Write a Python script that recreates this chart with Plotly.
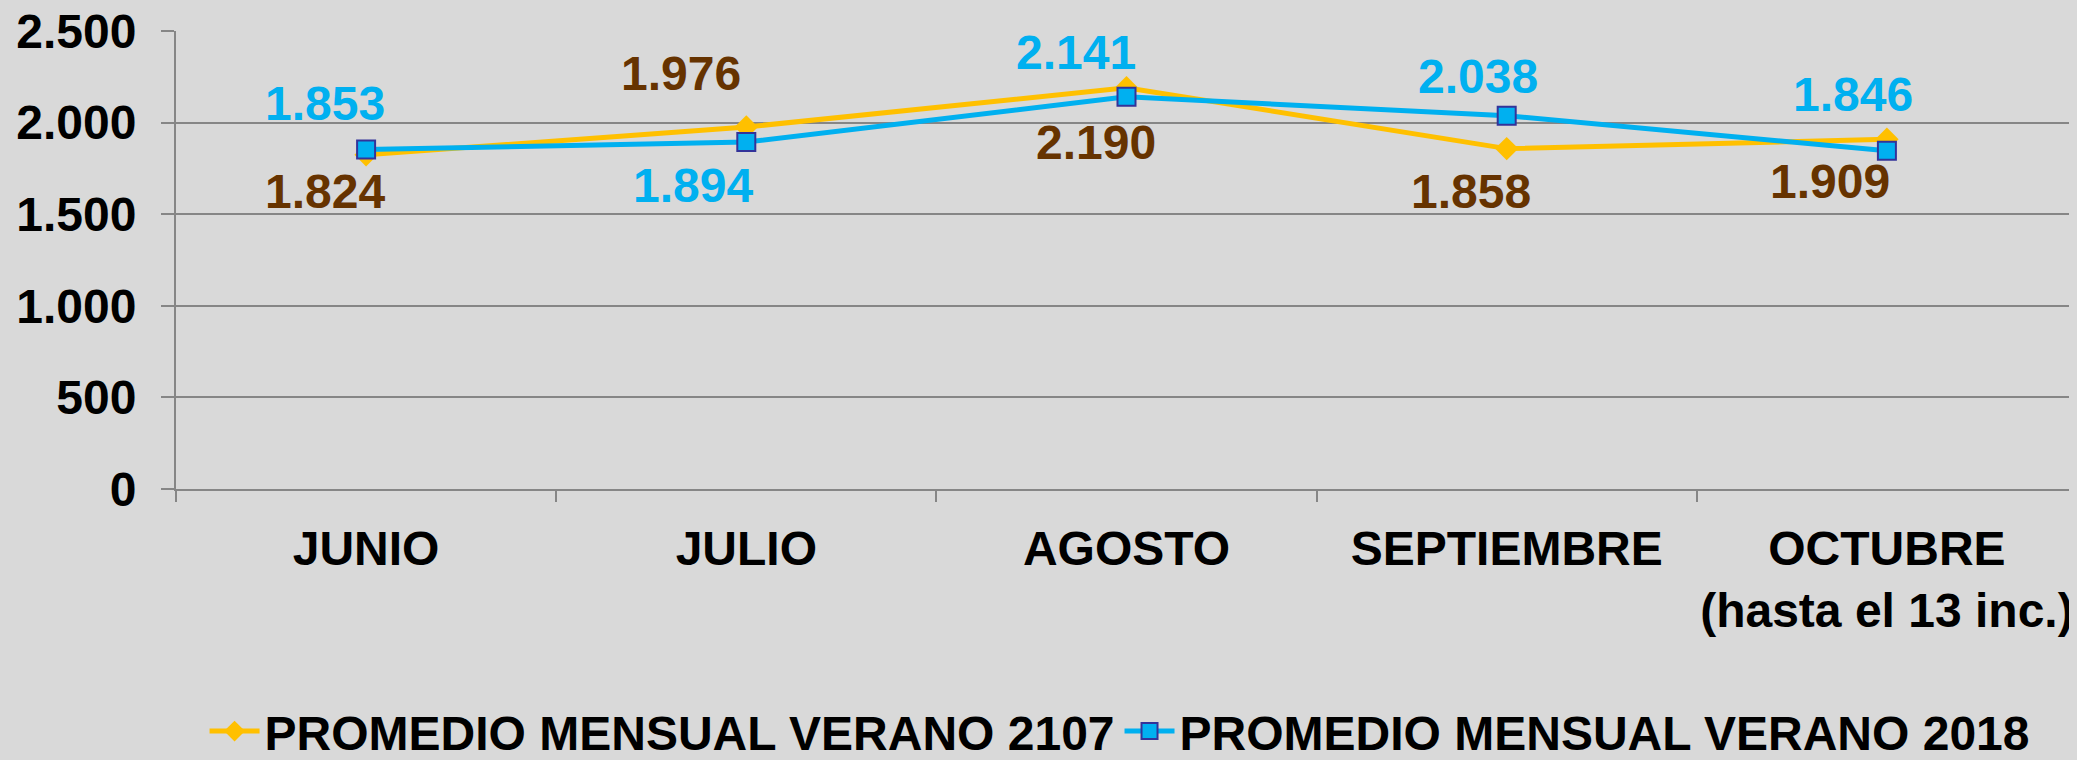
import plotly.graph_objects as go

categories = ["JUNIO", "JULIO", "AGOSTO", "SEPTIEMBRE", "OCTUBRE<br>(hasta el 13 inc.)"]
serie_2107 = [1824, 1976, 2190, 1858, 1909]
serie_2018 = [1853, 1894, 2141, 2038, 1846]
name_2107 = "PROMEDIO MENSUAL VERANO 2107"
name_2018 = "PROMEDIO MENSUAL VERANO 2018"
y_ticks = [0, 500, 1000, 1500, 2000, 2500]
y_tick_text = ["0", "500", "1.000", "1.500", "2.000", "2.500"]

# label offsets (pixels) relative to each point
off_2107 = [(-41, -37), (-65, 54), (-31, -55), (-36, -43), (-57, -42)]
off_2018 = [(-41, 46), (-53, -43), (-51, 44), (-29, 39), (-34, 56)]

FONT = "Liberation Sans, Arial, sans-serif"
YELLOW = "#FFC000"
BLUE = "#00B0F0"
BROWN = "#663300"
GRID = "#868686"
BG = "#D9D9D9"

def fmt(v):
    return f"{v:,}".replace(",", ".")

fig = go.Figure()
fig.add_trace(go.Scatter(
    x=categories, y=serie_2107, name=name_2107, mode="lines+markers",
    line=dict(color=YELLOW, width=5),
    marker=dict(symbol="diamond", size=18, color=YELLOW),
))
fig.add_trace(go.Scatter(
    x=categories, y=serie_2018, name=name_2018, mode="lines+markers",
    line=dict(color=BLUE, width=5),
    marker=dict(symbol="square", size=18, color=BLUE, line=dict(color="#333399", width=2)),
))

annotations = []
for c, v, (dx, dy) in zip(categories, serie_2107, off_2107):
    annotations.append(dict(x=c, y=v, text=fmt(v), showarrow=False, xshift=dx, yshift=dy,
                            font=dict(family=FONT, size=48, color=BROWN, weight="bold")))
for c, v, (dx, dy) in zip(categories, serie_2018, off_2018):
    annotations.append(dict(x=c, y=v, text=fmt(v), showarrow=False, xshift=dx, yshift=dy,
                            font=dict(family=FONT, size=48, color=BLUE, weight="bold")))

fig.update_layout(
    width=2069, height=752,
    margin=dict(l=168, r=0, t=23, b=271, autoexpand=False),
    paper_bgcolor=BG, plot_bgcolor=BG,
    font=dict(family=FONT, size=48, color="black", weight="bold"),
    showlegend=True,
    legend=dict(orientation="h", xref="container", yref="container",
                x=0.095, xanchor="left", y=0.038, yanchor="middle",
                font=dict(family=FONT, size=48, color="black", weight="bold"),
                bgcolor="rgba(0,0,0,0)", itemwidth=50, tracegroupgap=0),
    annotations=annotations,
)
fig.update_xaxes(
    type="category", range=[-0.5, len(categories) - 0.5],
    showgrid=False, showline=True, linecolor=GRID, linewidth=2,
    ticks="outside", ticklen=11, tickcolor=GRID, tickwidth=2, tickson="boundaries",
    ticklabelstandoff=16, automargin=False, tickangle=0,
    tickfont=dict(family=FONT, size=48, color="black", weight="bold"),
)
fig.update_yaxes(
    range=[0, 2500], tickvals=y_ticks, ticktext=y_tick_text,
    showgrid=True, gridcolor=GRID, gridwidth=2,
    showline=True, linecolor=GRID, linewidth=2,
    ticks="outside", ticklen=13, tickcolor=GRID, tickwidth=2,
    ticklabelstandoff=15, ticklabeloverflow="allow", zeroline=False, automargin=False,
    tickfont=dict(family=FONT, size=48, color="black", weight="bold"),
)

fig.write_html("out.html", post_script="document.body.style.background='#D9D9D9';")
